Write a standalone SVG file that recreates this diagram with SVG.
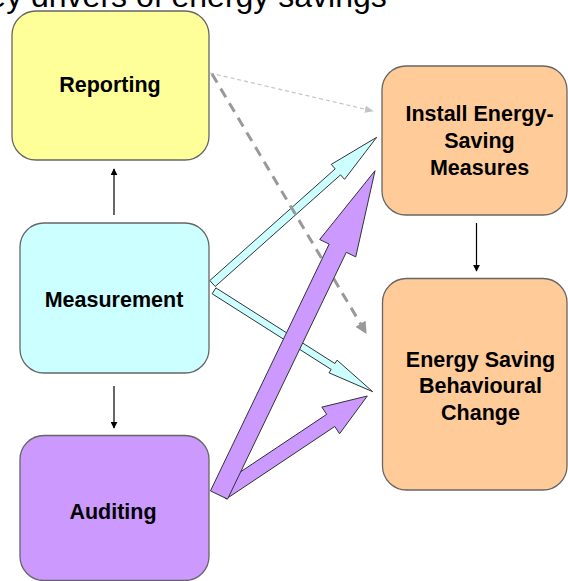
<svg xmlns="http://www.w3.org/2000/svg" width="568" height="581" viewBox="0 0 568 581">
<defs>
<style>
.box{stroke:#666;stroke-width:1.3}
.lbl{font-family:"Liberation Sans",Arial,sans-serif;font-weight:bold;font-size:21.5px;fill:#000;text-anchor:middle}
.thin{stroke:#000;stroke-width:1.2;fill:none}
.blk{stroke:#333;stroke-width:1;stroke-linejoin:miter}
</style>
<marker id="ah" viewBox="0 0 10 10" refX="9" refY="5" markerWidth="7" markerHeight="7" markerUnits="userSpaceOnUse" orient="auto"><path d="M0,0 L10,5 L0,10 z" fill="#000"/></marker>
<marker id="ahg" viewBox="0 0 10 10" refX="9" refY="5" markerWidth="12" markerHeight="12" markerUnits="userSpaceOnUse" orient="auto"><path d="M0,0 L10,5 L0,10 z" fill="#999"/></marker>
<marker id="ahl" viewBox="0 0 10 10" refX="9" refY="5" markerWidth="9" markerHeight="9" markerUnits="userSpaceOnUse" orient="auto"><path d="M0,1 L10,5 L0,9 z" fill="#c4c4c4"/></marker>
</defs>
<rect width="568" height="581" fill="#fff"/>
<text x="-33" y="6.5" font-family="Liberation Sans, Arial, sans-serif" font-size="32" fill="#000">Key drivers of energy savings</text>

<g id="connectors">
<line class="thin" x1="114" y1="215" x2="114" y2="169" marker-end="url(#ah)"/>
<line class="thin" x1="114" y1="386" x2="114" y2="428" marker-end="url(#ah)"/>
<line class="thin" x1="476.5" y1="223" x2="476.5" y2="271" marker-end="url(#ah)"/>
<polygon class="blk" fill="#ccffff" points="215.16,286.49 209.84,280.51 335.21,168.88 331.22,164.40 376.7,137.3 344.52,179.34 340.53,174.86"/>
<polygon class="blk" fill="#ccffff" points="212.12,293.75 215.88,287.85 334.92,363.53 337.06,360.15 372.7,391.7 329.02,372.81 331.16,369.43"/>
<line x1="210" y1="73" x2="373" y2="111" stroke="#c4c4c4" stroke-width="1.2" stroke-dasharray="4,3" marker-end="url(#ahl)"/>
<line x1="212" y1="74" x2="366" y2="333" stroke="#999" stroke-width="3" stroke-dasharray="10,7" marker-end="url(#ahg)"/>
<polygon class="blk" fill="#cc99ff" points="226.05,499.07 217.95,486.93 326.66,414.36 321.83,407.12 367.3,396 339.59,433.74 334.76,426.50"/>
<polygon class="blk" fill="#cc99ff" points="227.56,499.12 210.44,490.88 329.16,244.08 319.70,239.53 375,170.7 355.74,256.87 346.28,252.32"/>
</g>

<g id="reporting">
<rect class="box" x="12" y="11" width="197" height="149" rx="24" fill="#ffff99"/>
<text class="lbl" x="110" y="92">Reporting</text>
</g>
<g id="measurement">
<rect class="box" x="20" y="223" width="189" height="150" rx="24" fill="#ccffff"/>
<text class="lbl" x="114" y="306.5">Measurement</text>
</g>
<g id="auditing">
<rect class="box" x="20" y="435.5" width="189" height="145" rx="24" fill="#cc99ff"/>
<text class="lbl" x="113" y="519">Auditing</text>
</g>
<g id="install">
<rect class="box" x="382" y="66" width="185" height="149" rx="24" fill="#ffcc99"/>
<text class="lbl" x="479.5" y="121">Install Energy-</text>
<text class="lbl" x="479.5" y="148">Saving</text>
<text class="lbl" x="479.5" y="175">Measures</text>
</g>
<g id="behaviour">
<rect class="box" x="382.5" y="278.5" width="184.5" height="211.5" rx="24" fill="#ffcc99"/>
<text class="lbl" x="480.5" y="366.5">Energy Saving</text>
<text class="lbl" x="480.5" y="393">Behavioural</text>
<text class="lbl" x="480.5" y="419.5">Change</text>
</g>
</svg>
